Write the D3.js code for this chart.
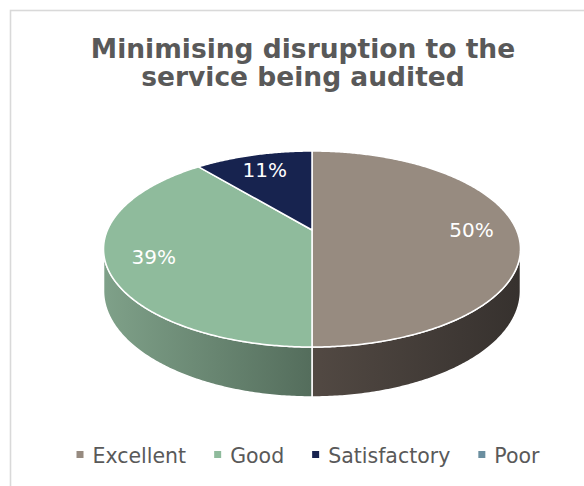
<!DOCTYPE html>
<html>
<head>
<meta charset="utf-8">
<script src="https://cdn.jsdelivr.net/npm/d3@7"></script>
<style>
  html, body { margin: 0; padding: 0; background: #ffffff; }
  svg { display: block; }
</style>
</head>
<body>
<svg id="chart" width="584" height="486"></svg>
<script>
// ---- data ----
const titleLines = ["Minimising disruption to the", "service being audited"];
const categories = ["Excellent", "Good", "Satisfactory", "Poor"];
const values = [50, 39, 11, 0];
const labels = ["50%", "39%", "11%", "0%"];
const topColors = ["#978b80", "#8fbb9c", "#17234f", "#6b8fa0"];
const sideColorsA = ["#524943", "#7fa189", "#17234f", "#5a7a89"];
const sideColorsB = ["#36312e", "#546d5c", "#101a3a", "#41606e"];

// ---- geometry ----
const cx = 312, cy0 = 230;     // projected pie centre
const A = 204.5, B = 94.3;     // horizontal / vertical radii
const p = 0.194;               // perspective factor
const depth = 40.3;            // wall height (before perspective)

const svg = d3.select("#chart");
const defs = svg.append("defs");

// frame
svg.append("rect")
  .attr("x", 10.5).attr("y", 10.5)
  .attr("width", 640).attr("height", 640)
  .attr("fill", "#ffffff")
  .attr("stroke", "#d9d9d9").attr("stroke-width", 1.6);

// title
const title = svg.append("text")
  .attr("text-anchor", "middle")
  .attr("font-family", "Verdana, 'DejaVu Sans', sans-serif")
  .attr("font-weight", "bold")
  .attr("font-size", 26.5)
  .attr("fill", "#595959");
titleLines.forEach((t, i) => {
  title.append("tspan").attr("x", 303).attr("y", 58 + i * 28).text(t);
});

// projection of a point on the pie rim
function proj(a, r = 1, dz = 0) {
  const u = Math.sin(a) * r, w = Math.cos(a) * r;
  const s = 1 / (1 + p * w);
  return [cx + A * u * s, cy0 - B * w * s + dz * s];
}
function rimPoints(a0, a1, dz) {
  const n = Math.max(2, Math.ceil(Math.abs(a1 - a0) / 0.01));
  const pts = [];
  for (let i = 0; i <= n; i++) {
    const a = a0 + (a1 - a0) * i / n;
    pts.push(proj(a, 1, dz));
  }
  return pts;
}

const pie = d3.pie().sort(null).value(d => d)(values);
const line = d3.line();

// gradients for side walls
categories.forEach((c, i) => {
  const g = defs.append("linearGradient")
    .attr("id", "side" + i)
    .attr("gradientUnits", "userSpaceOnUse")
    .attr("x1", cx - A * 1.02).attr("x2", cx + A * 1.02)
    .attr("y1", 0).attr("y2", 0);
  if (i === 1) {
    g.append("stop").attr("offset", 0).attr("stop-color", sideColorsA[i]);
    g.append("stop").attr("offset", 0.5).attr("stop-color", sideColorsB[i]);
    g.append("stop").attr("offset", 1).attr("stop-color", sideColorsB[i]);
  } else {
    g.append("stop").attr("offset", 0).attr("stop-color", sideColorsA[i]);
    g.append("stop").attr("offset", 0.5).attr("stop-color", sideColorsA[i]);
    g.append("stop").attr("offset", 1).attr("stop-color", sideColorsB[i]);
  }
});

// visible wall range (silhouette)
const aS = Math.acos(-p), aE = 2 * Math.PI - aS;

const walls = svg.append("g");
pie.forEach((d, i) => {
  if (d.endAngle - d.startAngle <= 0) return;
  const b0 = Math.max(d.startAngle, aS), b1 = Math.min(d.endAngle, aE);
  if (b1 <= b0) return;
  const top = rimPoints(b0, b1, 0);
  const bot = rimPoints(b1, b0, depth);
  walls.append("path")
    .attr("d", line(top.concat(bot)) + "Z")
    .attr("fill", `url(#side${i})`)
    .attr("stroke", "#ffffff").attr("stroke-width", 1.5)
    .attr("stroke-linejoin", "round");
});

// top faces
const tops = svg.append("g");
pie.forEach((d, i) => {
  if (d.endAngle - d.startAngle <= 0) return;
  const pts = [[cx, cy0]].concat(rimPoints(d.startAngle, d.endAngle, 0));
  tops.append("path")
    .attr("d", line(pts) + "Z")
    .attr("fill", topColors[i])
    .attr("stroke", "#ffffff").attr("stroke-width", 1.5)
    .attr("stroke-linejoin", "round");
});

// data labels
const lab = svg.append("g")
  .attr("font-family", "Verdana, 'DejaVu Sans', sans-serif")
  .attr("font-size", 20)
  .attr("fill", "#ffffff")
  .attr("text-anchor", "middle");
pie.forEach((d, i) => {
  if (d.endAngle - d.startAngle <= 0) return;
  const m = (d.startAngle + d.endAngle) / 2;
  const [x, y] = proj(m, 0.78, 0);
  lab.append("text").attr("x", x).attr("y", y).attr("dy", "0.37em").text(labels[i]);
});

// legend
const leg = svg.append("g")
  .attr("font-family", "Verdana, 'DejaVu Sans', sans-serif")
  .attr("font-size", 20.5)
  .attr("fill", "#595959");
const items = categories.map((c, i) => {
  const g = leg.append("g");
  g.append("rect").attr("x", 0).attr("y", -12).attr("width", 7).attr("height", 7).attr("fill", topColors[i]);
  const t = g.append("text").attr("x", 16).attr("y", 0).text(c);
  return { g, w: 16 + t.node().getComputedTextLength() };
});
const gap = 28;
const total = d3.sum(items, d => d.w) + gap * (items.length - 1);
let xx = 308 - total / 2;
items.forEach(it => {
  it.g.attr("transform", `translate(${xx},463)`);
  xx += it.w + gap;
});
</script>
</body>
</html>
